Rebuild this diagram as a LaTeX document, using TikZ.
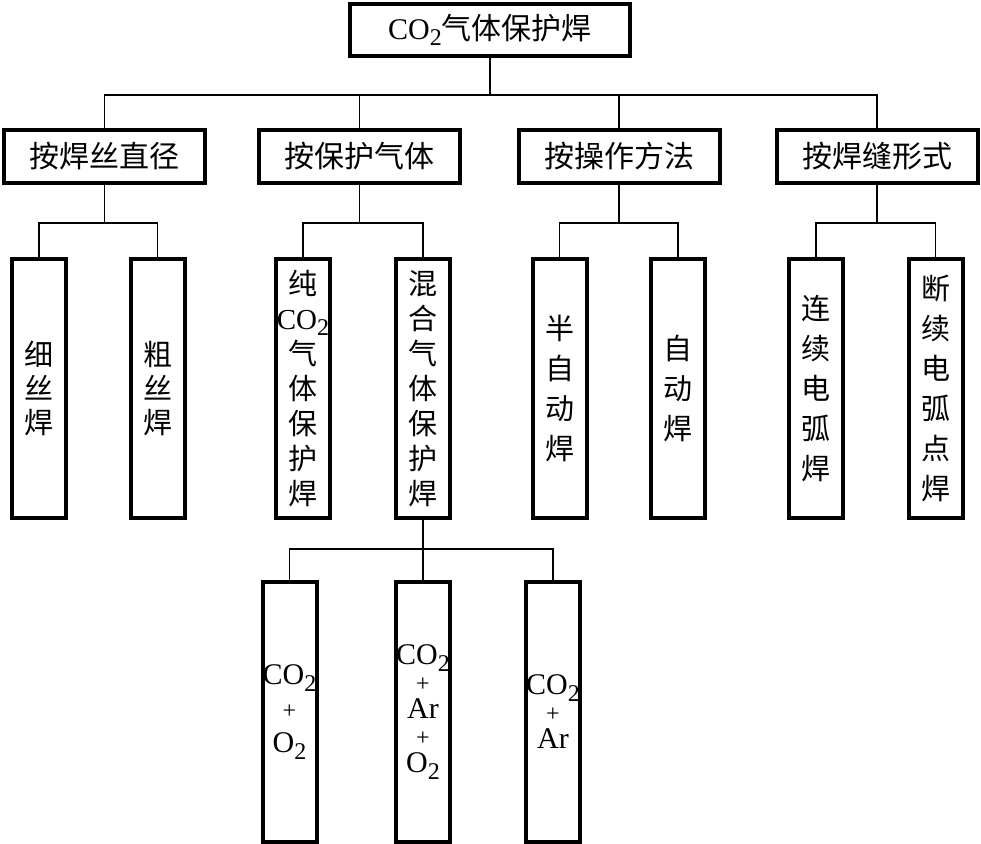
\documentclass[tikz,border=0pt]{standalone}
\usepackage{fontspec}
\setmainfont{Liberation Serif}
\newfontfamily\cjk{Noto Sans CJK SC}
\newcommand\lowsub[1]{\raisebox{-0.45ex}{\fontsize{12}{12}\selectfont #1}}
\newcommand\smallplus{{\fontsize{12}{12}\selectfont +}}

\begin{document}
\begin{tikzpicture}[x=0.5pt,y=-0.5pt]
\tikzstyle{box}=[rectangle, draw, line width=2pt, inner sep=0pt, align=center]
\tikzstyle{head}=[box, minimum width=140pt, minimum height=26pt, font=\fontsize{15}{18}\selectfont]
\tikzstyle{kind}=[box, minimum width=100.5pt, minimum height=26.5pt, font=\cjk\fontsize{15}{18}\selectfont]
\tikzstyle{leaf}=[box, minimum width=27pt, minimum height=129.5pt, font=\cjk\fontsize{14.5}{20}\selectfont]
\tikzstyle{mix}=[box, minimum width=27pt, minimum height=130pt, font={\fontsize{15}{13.5}\selectfont\lineskiplimit=-20pt\relax}]
\tikzstyle{link}=[line width=0.65pt]

\useasboundingbox (0,0) rectangle (981,844);

\node[head] (root) at (490,30) {CO\lowsub{2}{\cjk 气体保护焊}};

\node[kind] (diam) at (104.5,156.5) {按焊丝直径};
\node[kind] (shield) at (359.5,156.5) {按保护气体};
\node[kind] (method) at (619,156.5) {按操作方法};
\node[kind] (seam) at (877,156.5) {按焊缝形式};

\node[leaf, font=\cjk\fontsize{14.5}{17}\selectfont] (fine) at (39,388.5) {细\\丝\\焊};
\node[leaf, font=\cjk\fontsize{14.5}{17}\selectfont] (coarse) at (157.5,388.5) {粗\\丝\\焊};
\node[leaf, font=\cjk\fontsize{14.5}{17.5}\selectfont] (pure) at (303,388.5) {纯\\{\rmfamily CO\lowsub{2}}\\气\\体\\保\\护\\焊};
\node[leaf, font=\cjk\fontsize{14.5}{17.5}\selectfont] (mixed) at (423,388.5) {混\\合\\气\\体\\保\\护\\焊};
\node[leaf] (semi) at (559.5,388.5) {半\\自\\动\\焊};
\node[leaf] (auto) at (678,388.5) {自\\动\\焊};
\node[leaf] (cont) at (816,388.5) {连\\续\\电\\弧\\焊};
\node[leaf] (spot) at (935.5,388.5) {断\\续\\电\\弧\\点\\焊};

\node[mix, font=\fontsize{15}{17}\selectfont] (coo) at (289.5,712) {CO\lowsub{2}\\\smallplus\\O\lowsub{2}};
\node[mix] (coaro) at (423,712) {CO\lowsub{2}\\\smallplus\\Ar\\\smallplus\\O\lowsub{2}};
\node[mix] (coar) at (553,712) {CO\lowsub{2}\\\smallplus\\Ar};

\draw[link] (root.south) -- ++(0,37) coordinate (r0);
\draw[link] (diam.north) |- (r0) -| (seam.north);
\draw[link] (shield.north) -- (shield.north |- r0);
\draw[link] (method.north) -- (method.north |- r0);

\draw[link] (diam.south) -- ++(0,38) coordinate (d0);
\draw[link] (fine.north) |- (d0) -| (coarse.north);
\draw[link] (shield.south) -- ++(0,38) coordinate (s0);
\draw[link] (pure.north) |- (s0) -| (mixed.north);
\draw[link] (method.south) -- ++(0,38) coordinate (m0);
\draw[link] (semi.north) |- (m0) -| (auto.north);
\draw[link] (seam.south) -- ++(0,38) coordinate (w0);
\draw[link] (cont.north) |- (w0) -| (spot.north);

\draw[link] (mixed.south) -- (coaro.north);
\draw[link] (mixed.south) ++(0,29) coordinate (x0);
\draw[link] (coo.north) |- (x0) -| (coar.north);
\end{tikzpicture}
\end{document}
